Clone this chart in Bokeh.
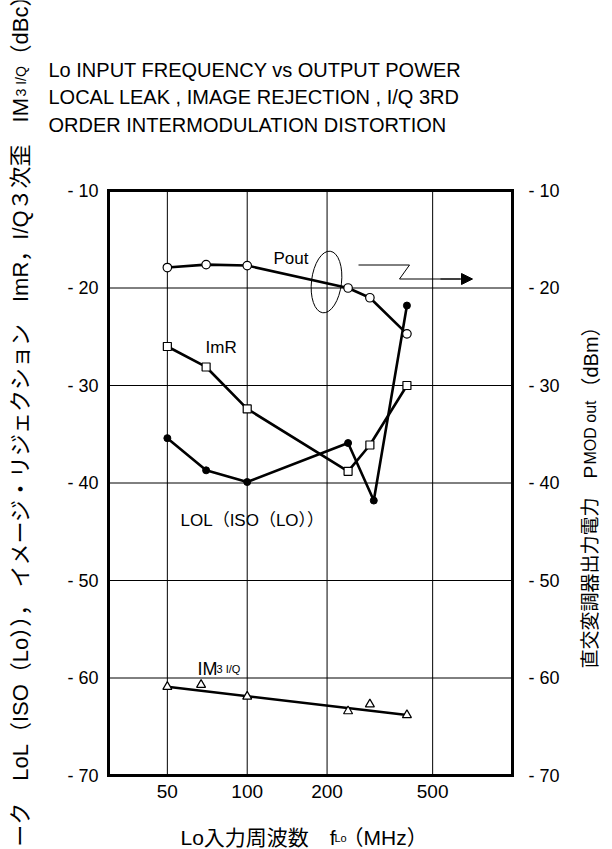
import math
from bokeh.plotting import figure
from bokeh.models import FixedTicker, LinearAxis, LogAxis, Label, Range1d, Arrow, NormalHead
from bokeh.embed import file_html
from bokeh.resources import INLINE

# ---------------- data ----------------
freq_pout = [50, 70, 100, 240, 290, 400]
pout_dbm = [-17.9, -17.6, -17.7, -20.0, -21.0, -24.7]

freq_imr = [50, 70, 100, 240, 290, 400]
imr_dbc = [-26.0, -28.1, -32.4, -38.8, -36.1, -30.0]

freq_lol = [50, 70, 100, 240, 300, 400]
lol_dbc = [-35.4, -38.7, -39.9, -35.9, -41.8, -21.8]

freq_im3 = [50, 67, 100, 240, 290, 400]
im3_dbc = [-60.9, -60.7, -61.9, -63.4, -62.7, -63.8]

freq_im3_trend = [50, 400]
im3_trend_dbc = [-60.9, -63.8]

x_ticks = [50, 100, 200, 500]
x_tick_labels = ["50", "100", "200", "500"]
y_ticks = [-10, -20, -30, -40, -50, -60, -70]
y_tick_labels = ["- 10", "- 20", "- 30", "- 40", "- 50", "- 60", "- 70"]

title_lines = [
    "Lo INPUT FREQUENCY vs OUTPUT POWER",
    "LOCAL LEAK , IMAGE REJECTION , I/Q 3RD",
    "ORDER INTERMODULATION DISTORTION",
]

# ---------------- layout ----------------
W, H = 612, 849
FL, FR, FT, FB = 108, 512, 190, 775          # plot box in page pixels
X0, X1 = 30, 1000                            # box x extent (MHz, log)
Y0, Y1 = -70, -10                            # box y extent (dB)
FONT = "Liberation Sans, Noto Sans CJK JP"

KX = (FR - FL) / math.log10(X1 / X0)
KY = (FB - FT) / (Y1 - Y0)
XS = 10 ** (math.log10(X0) - FL / KX)
XE = 10 ** (math.log10(X1) + (W - FR) / KX)
YS = Y0 - (H - FB) / KY
YE = Y1 + FT / KY

p = figure(width=W, height=H, x_axis_type="log",
           x_range=Range1d(XS, XE), y_range=Range1d(YS, YE),
           output_backend="svg", toolbar_location=None, title=None,
           min_border=0)
p.background_fill_color = "white"
p.border_fill_color = "white"
p.outline_line_color = None
p.xgrid.visible = False
p.ygrid.visible = False

left = p.yaxis[0]
bottom = p.xaxis[0]
right = LinearAxis()
top = LogAxis()
p.add_layout(right, "right")
p.add_layout(top, "above")

left.fixed_location = X0
right.fixed_location = X1
bottom.fixed_location = Y0
top.fixed_location = Y1
for ax in (left, right):
    ax.bounds = (Y0, Y1)
    ax.ticker = FixedTicker(ticks=y_ticks, minor_ticks=[])
    ax.major_label_overrides = {t: l for t, l in zip(y_ticks, y_tick_labels)}
    ax.major_label_text_font_size = "18px"
for ax in (bottom, top):
    ax.bounds = (X0, X1)
bottom.ticker = FixedTicker(ticks=x_ticks, minor_ticks=[])
bottom.major_label_overrides = {t: l for t, l in zip(x_ticks, x_tick_labels)}
bottom.major_label_text_font_size = "19px"
top.ticker = FixedTicker(ticks=[], minor_ticks=[])
top.major_label_text_font_size = "0px"

for ax in (left, right, bottom, top):
    ax.axis_line_color = "black"
    ax.axis_line_width = 3
    ax.axis_line_cap = "square"
    ax.major_tick_line_color = None
    ax.minor_tick_line_color = None
    ax.major_tick_in = 0
    ax.major_tick_out = 0
    ax.minor_tick_in = 0
    ax.minor_tick_out = 0
    ax.major_label_text_font = FONT
    ax.major_label_text_color = "black"
    ax.major_label_text_font_style = "normal"
left.major_label_standoff = 10
right.major_label_standoff = 16
bottom.major_label_standoff = 9

# grid lines at the tick values, inside the box
inner_y = [t for t in y_ticks if Y0 < t < Y1]
p.segment(x0=x_ticks, y0=[Y0] * len(x_ticks), x1=x_ticks, y1=[Y1] * len(x_ticks),
          line_color="black", line_width=1)
p.segment(x0=[X0] * len(inner_y), y0=inner_y, x1=[X1] * len(inner_y), y1=inner_y,
          line_color="black", line_width=1)

# ---------------- series ----------------
LW = 2.6
p.line(freq_pout, pout_dbm, line_width=LW, line_color="black")
p.line(freq_imr, imr_dbc, line_width=LW, line_color="black")
p.line(freq_lol, lol_dbc, line_width=LW, line_color="black")
p.line(freq_im3_trend, im3_trend_dbc, line_width=LW, line_color="black")

p.scatter(freq_pout, pout_dbm, marker="circle", size=8.5, fill_color="white",
          line_color="black", line_width=1.2)
p.scatter(freq_imr, imr_dbc, marker="square", size=8, fill_color="white",
          line_color="black", line_width=1.2)
p.scatter(freq_lol, lol_dbc, marker="circle", size=7, fill_color="black",
          line_color="black", line_width=1)
p.scatter(freq_im3, im3_dbc, marker="triangle", size=9, fill_color="white",
          line_color="black", line_width=1.2)


# ---------------- helpers for page-pixel placement ----------------
def dx(px):
    return 10 ** (math.log10(X0) + (px - FL) / KX)


def dy(py):
    return Y1 - (py - FT) / KY


def lab(px, py, text, size, align="left", baseline="alphabetic", angle=0.0):
    p.add_layout(Label(x=px, y=H - py, x_units="screen", y_units="screen",
                       text=text, text_font=FONT, text_font_size=f"{size}px",
                       text_align=align, text_baseline=baseline, angle=angle,
                       text_color="black"))


# Pout annotation: ellipse + zigzag arrow
p.ellipse(x=[dx(326)], y=[dy(281.5)], width=30, height=62,
          width_units="screen", height_units="screen", angle=-0.12,
          fill_color=None, line_color="black", line_width=1)
p.line([dx(358), dx(409), dx(399), dx(460)],
       [dy(264.5), dy(264.5), dy(278.5), dy(278.5)], line_color="black", line_width=1)
p.add_layout(Arrow(end=NormalHead(size=11, fill_color="black", line_color="black"),
                   x_start=dx(440), y_start=dy(278.5), x_end=dx(472), y_end=dy(278.5),
                   line_color="black", line_width=1))

# in-plot series labels
lab(273, 258, "Pout", 17)
lab(205, 347, "ImR", 17)
lab(180, 520, "LOL（ISO（LO））", 17)
lab(197, 668, "IM", 18)
lab(216, 668, "3 I/Q", 11)

# title
lab(48, 69, title_lines[0], 20)
lab(48, 96.5, title_lines[1], 20)
lab(48, 124, title_lines[2], 20)

# x axis title
lab(180, 837, "Lo入力周波数　f", 21)
lab(334, 837, "Lo", 11)
lab(342, 837, "（MHz）", 21)

# left axis title (rotated, reads upward)
ROT = math.pi / 2
lab(20, 97, "ローカルリーク　LoL（ISO（Lo））， イメージ・リジェクション　ImR，I/Q３次歪　IM",
    22, align="right", angle=ROT)
lab(20, 96, "3 I/Q", 14, angle=ROT)
lab(20, 66, "（dBc）", 22, angle=ROT)

# right axis title (rotated, reads upward)
lab(590, 668, "直交変調器出力電力　P", 19, angle=ROT)
lab(590, 464, "MOD out", 16, angle=ROT)
lab(590, 397, "（dBm）", 20, angle=ROT)

open("out.html", "w").write(file_html(p, INLINE))
